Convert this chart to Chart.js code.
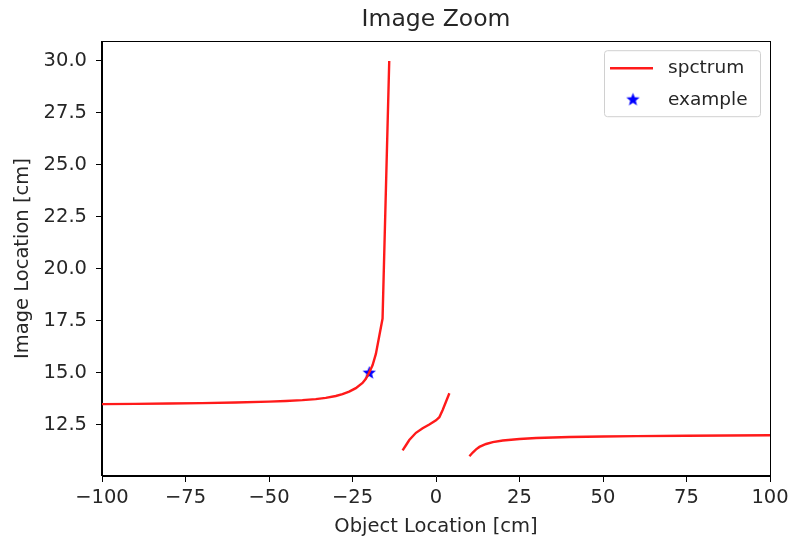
<!DOCTYPE html>
<html>
<head>
<meta charset="utf-8">
<script src="https://cdn.jsdelivr.net/npm/chart.js@4.4.1/dist/chart.umd.min.js"></script>
<style>
  html, body { margin: 0; padding: 0; background: #fff; }
  #wrap { width: 798px; height: 552px; }
</style>
</head>
<body>
<div id="wrap"><canvas id="chart" width="798" height="552"></canvas></div>
<script>
// --- datos ---
// tramo 1: objeto antes de la primera lente
const seg1X = [-100, -90, -80, -70, -60, -50, -45, -40, -36, -33, -30, -28, -26, -24, -22, -21, -20, -19, -18, -17, -16, -14];
const seg1Y = [13.48, 13.49, 13.51, 13.53, 13.56, 13.60, 13.63, 13.67, 13.72, 13.78, 13.87, 13.96, 14.08, 14.25, 14.5, 14.7, 15.0, 15.35, 15.9, 16.75, 17.6, 30.0];
// tramo 2: zona central
const seg2X = [-10, -9, -8, -6, -4, -2, 0, 1, 2, 4];
const seg2Y = [11.25, 11.5, 11.75, 12.1, 12.32, 12.5, 12.7, 12.85, 13.2, 14.0];
// tramo 3: objeto a la derecha
const seg3X = [10, 11, 12, 13, 15, 17, 20, 25, 30, 40, 50, 60, 75, 100];
const seg3Y = [10.97, 11.15, 11.3, 11.42, 11.56, 11.65, 11.73, 11.8, 11.85, 11.9, 11.92, 11.94, 11.96, 11.98];

const exampleX = [-20];
const exampleY = [15];

const xTicks = [-100, -75, -50, -25, 0, 25, 50, 75, 100];
const yTicks = [12.5, 15.0, 17.5, 20.0, 22.5, 25.0, 27.5, 30.0];

// unir tramos con huecos (null) para que sea una sola serie
function toPoints(xs, ys) {
    return xs.map((x, i) => ({ x: x, y: ys[i] }));
}
const spectrumData = [
    ...toPoints(seg1X, seg1Y),
    { x: -12, y: null },
    ...toPoints(seg2X, seg2Y),
    { x: 7, y: null },
    ...toPoints(seg3X, seg3Y)
];

// marcador estrella rellena (estilo matplotlib '*')
function makeStar(size, color) {
    const c = document.createElement('canvas');
    c.width = size; c.height = size;
    const g = c.getContext('2d');
    const cx = size / 2, cy = size / 2 + 0.5;
    const R = size / 2 - 0.5, r = R * 0.42;
    g.beginPath();
    for (let i = 0; i < 10; i++) {
        const a = -Math.PI / 2 + i * Math.PI / 5;
        const rad = i % 2 === 0 ? R : r;
        const px = cx + rad * Math.cos(a), py = cy + rad * Math.sin(a);
        if (i === 0) g.moveTo(px, py); else g.lineTo(px, py);
    }
    g.closePath();
    g.fillStyle = color;
    g.fill();
    return c;
}
const starImg = makeStar(15, '#0000ff');

const FONT = "'DejaVu Sans', sans-serif";
const TEXT = '#262626';
const FS = 19.5;

// marco completo + leyenda dentro del área
const framePlugin = {
    id: 'frameLegend',
    afterDraw(chart) {
        const ctx = chart.ctx;
        const a = chart.chartArea;
        ctx.save();
        ctx.strokeStyle = '#000';
        ctx.lineWidth = 1;
        ctx.strokeRect(Math.round(a.left) - 0.5, Math.round(a.top) + 0.5,
            Math.round(a.right - a.left) + 1, Math.round(a.bottom - a.top) - 1);

        // leyenda
        const w = 156, h = 66;
        const lx = a.right - 10 - w, ly = a.top + 9;
        ctx.beginPath();
        ctx.roundRect(lx + 0.5, ly + 0.5, w, h, 3);
        ctx.fillStyle = 'rgba(255,255,255,0.8)';
        ctx.fill();
        ctx.strokeStyle = '#d0d0d0';
        ctx.stroke();

        const ds = chart.data.datasets;
        ctx.font = '18.5px ' + FONT;
        ctx.fillStyle = TEXT;
        ctx.textBaseline = 'middle';
        // linea roja
        ctx.beginPath();
        ctx.moveTo(lx + 6, ly + 18);
        ctx.lineTo(lx + 49, ly + 18);
        ctx.strokeStyle = ds[0].borderColor;
        ctx.lineWidth = ds[0].borderWidth;
        ctx.stroke();
        ctx.fillText(ds[0].label, lx + 64, ly + 18);
        // estrella
        ctx.drawImage(starImg, lx + 29 - 7.5, ly + 49 - 7.5);
        ctx.fillText(ds[1].label, lx + 64, ly + 50);
        ctx.restore();
    }
};

const ctx = document.getElementById('chart').getContext('2d');
new Chart(ctx, {
    type: 'line',
    data: {
        datasets: [
            {
                label: 'spctrum',
                data: spectrumData,
                borderColor: '#ff1a1a',
                borderWidth: 2.4,
                pointRadius: 0,
                tension: 0,
                spanGaps: false,
                fill: false
            },
            {
                label: 'example',
                data: toPoints(exampleX, exampleY),
                showLine: false,
                pointStyle: starImg,
                pointRadius: 7,
                borderColor: '#0000ff',
                backgroundColor: '#0000ff'
            }
        ]
    },
    options: {
        responsive: false,
        animation: false,
        layout: { padding: { top: 0, right: 28, bottom: 0, left: 0 } },
        plugins: {
            legend: { display: false },
            tooltip: { enabled: false },
            title: {
                display: true,
                text: 'Image Zoom',
                fullSize: false,
                color: TEXT,
                font: { family: FONT, size: 23.5, weight: 'normal' },
                padding: { top: 6, bottom: 7 }
            }
        },
        scales: {
            x: {
                type: 'linear',
                min: -100,
                max: 100,
                afterBuildTicks: (scale) => { scale.ticks = xTicks.map(v => ({ value: v })); },
                afterFit: (scale) => { scale.height = 76; },
                ticks: {
                    color: TEXT,
                    font: { family: FONT, size: FS },
                    padding: 4,
                    maxRotation: 0,
                    autoSkip: false,
                    callback: (v) => (v < 0 ? '\u2212' + Math.abs(v) : String(v))
                },
                grid: { drawOnChartArea: false, drawTicks: true, tickLength: 6, color: '#000' },
                border: { display: true, color: '#000', width: 1 },
                title: {
                    display: true,
                    text: 'Object Location [cm]',
                    color: TEXT,
                    font: { family: FONT, size: FS },
                    padding: { top: 0, bottom: 13 }
                }
            },
            y: {
                type: 'linear',
                min: 10.02,
                max: 30.95,
                afterBuildTicks: (scale) => { scale.ticks = yTicks.map(v => ({ value: v })); },
                afterFit: (scale) => { scale.width = 102; },
                ticks: {
                    color: TEXT,
                    font: { family: FONT, size: FS },
                    padding: 9,
                    autoSkip: false,
                    callback: (v) => Number(v).toFixed(1)
                },
                grid: { drawOnChartArea: false, drawTicks: true, tickLength: 6, color: '#000' },
                border: { display: true, color: '#000', width: 1 },
                title: {
                    display: true,
                    text: 'Image Location [cm]',
                    color: TEXT,
                    font: { family: FONT, size: FS },
                    padding: { top: 11, bottom: 4 }
                }
            }
        }
    },
    plugins: [framePlugin]
});
</script>
</body>
</html>
